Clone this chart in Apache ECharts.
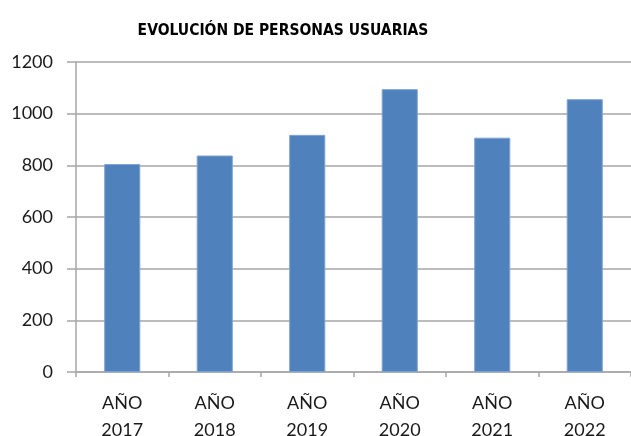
<!DOCTYPE html>
<html>
<head>
<meta charset="utf-8">
<script src="https://cdn.jsdelivr.net/npm/echarts@6/dist/echarts.min.js"></script>
<style>
  html, body { margin: 0; padding: 0; background: #fff; }
  #chart { width: 631px; height: 436px; }
</style>
</head>
<body>
<div id="chart"></div>
<script>
// data
var years = ['AÑO\n2017', 'AÑO\n2018', 'AÑO\n2019', 'AÑO\n2020', 'AÑO\n2021', 'AÑO\n2022'];
var usuarios = [805, 838, 918, 1095, 907, 1056];
var yTicks = [0, 200, 400, 600, 800, 1000, 1200];

var gridColor = '#a6a6a6';

var myChart = echarts.init(document.getElementById('chart'));

var option = {
  animation: false,
  title: {
    text: 'EVOLUCIÓN DE PERSONAS USUARIAS',
    left: 278,
    top: 18,
    textAlign: 'center',
    textStyle: {
      fontFamily: '"DejaVu Sans Condensed", "Liberation Sans Narrow", sans-serif',
      fontSize: 15.5,
      fontWeight: 'bold',
      color: '#000'
    }
  },
  grid: { left: 76, right: 0, top: 62, bottom: 64, outerBoundsMode: 'none', containLabel: false },
  xAxis: {
    type: 'category',
    data: years,
    axisLine: { lineStyle: { color: gridColor, width: 1.5 } },
    axisTick: { show: true, length: 5, lineStyle: { color: gridColor, width: 1.5 } },
    axisLabel: {
      color: '#1a1a1a',
      fontFamily: 'Lato, "Open Sans", sans-serif',
      fontSize: 18,
      lineHeight: 27,
      margin: 18
    }
  },
  yAxis: {
    type: 'value',
    min: yTicks[0],
    max: yTicks[yTicks.length - 1],
    interval: 200,
    axisLine: { show: true, lineStyle: { color: gridColor, width: 1.5 } },
    axisTick: { show: true, length: 9, lineStyle: { color: gridColor, width: 1.5 } },
    splitLine: { lineStyle: { color: gridColor, width: 1.5 } },
    axisLabel: {
      color: '#1a1a1a',
      fontFamily: 'Lato, "Open Sans", sans-serif',
      fontSize: 18,
      margin: 23,
      formatter: function (v) { return String(v); }
    }
  },
  series: [
    {
      name: 'Personas usuarias',
      type: 'bar',
      data: usuarios,
      barWidth: '39%',
      itemStyle: {
        color: '#4f81bd',
        borderColor: '#7fa3cf',
        borderWidth: 1
      }
    }
  ]
};

myChart.setOption(option);
</script>
</body>
</html>
